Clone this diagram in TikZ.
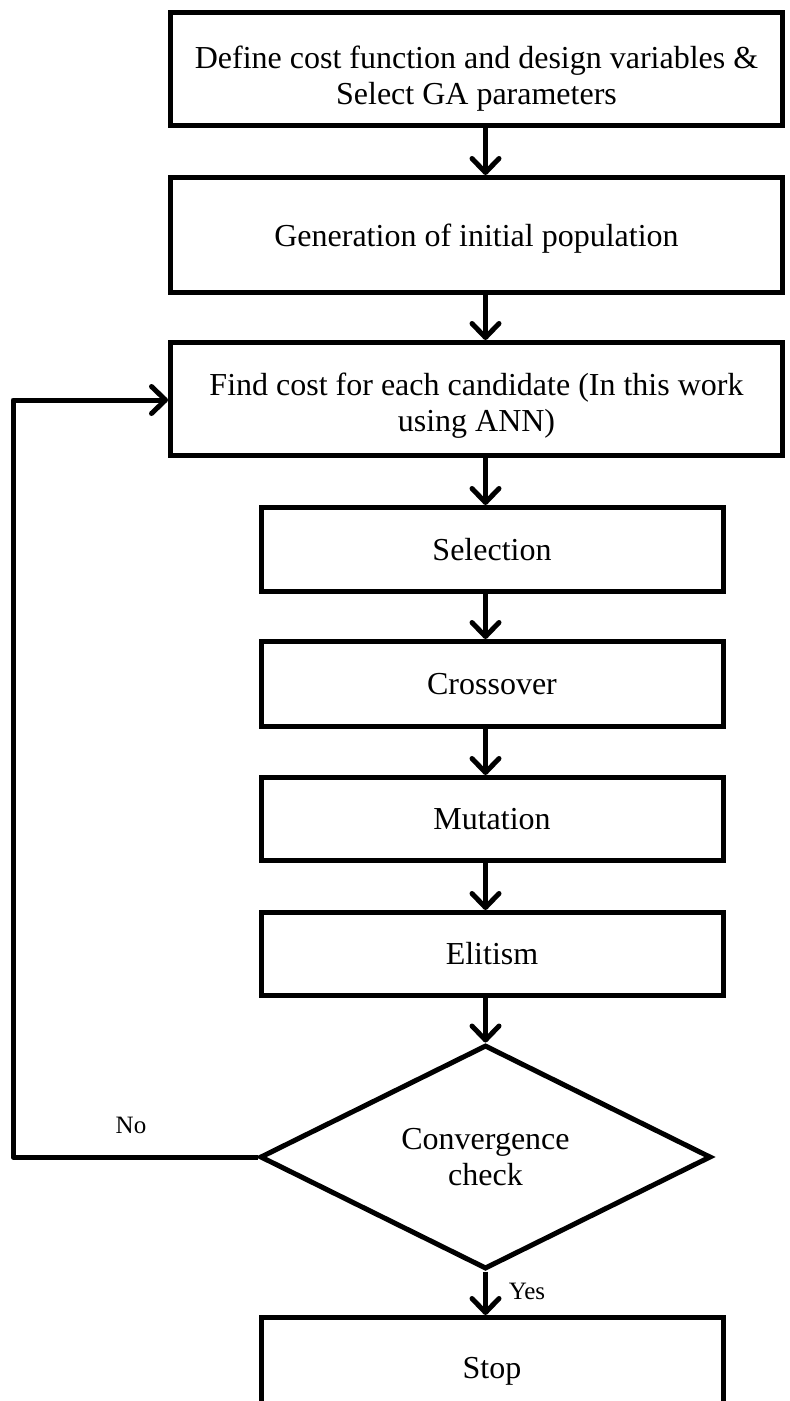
\documentclass[tikz,border=0pt]{standalone}
\usepackage{fontspec}
\setmainfont{Liberation Serif}
\usetikzlibrary{arrows.meta,shapes.geometric}

\begin{document}
\begin{tikzpicture}[x=1pt,y=-1pt,
  every node/.style={font=\fontsize{32}{36}\selectfont},
  procbox/.style={draw, line width=5pt, rectangle, align=center, inner sep=0pt},
  decbox/.style={draw, line width=5pt, diamond, align=center, inner sep=0pt, aspect=2},
  flow/.style={line width=5pt, -{Straight Barb[length=14pt,width=27pt,round]}},
  tag/.style={font=\fontsize{25}{28}\selectfont}
]
\useasboundingbox (0,0) rectangle (790,1401);

% process steps (struts on the first line push the text a little lower)
\node[procbox, minimum width=612pt, minimum height=113pt] (def) at (476.5,69)
  {\rule{0pt}{42pt}Define cost function and design variables \&\\Select GA parameters};
\node[procbox, minimum width=612pt, minimum height=115pt] (gen) at (476.5,235)
  {\rule{0pt}{30pt}Generation of initial population};
\node[procbox, minimum width=612pt, minimum height=113pt] (cost) at (476.5,399)
  {\rule{0pt}{35pt}Find cost for each candidate (In this work\\using ANN)};
\node[procbox, minimum width=462pt, minimum height=84pt] (sel) at (492,549.5)
  {Selection};
\node[procbox, minimum width=462pt, minimum height=85pt] (cross) at (492,684)
  {Crossover};
\node[procbox, minimum width=462pt, minimum height=83pt] (mut) at (492,819)
  {Mutation};
\node[procbox, minimum width=462pt, minimum height=83pt] (elit) at (492,954)
  {Elitism};
\node[decbox, minimum width=451pt, minimum height=224pt] (conv) at (485.5,1157)
  {Convergence\\check};
\node[procbox, minimum width=462pt, minimum height=125pt] (stop) at (492,1380)
  {\raisebox{24pt}{Stop}};

% main flow
\draw[flow] (def.south -| conv.north) -- (gen.north -| conv.north);
\draw[flow] (gen.south -| conv.north) -- (cost.north -| conv.north);
\draw[flow] (cost.south -| conv.north) -- (sel.north -| conv.north);
\draw[flow] (sel.south -| conv.north) -- (cross.north -| conv.north);
\draw[flow] (cross.south -| conv.north) -- (mut.north -| conv.north);
\draw[flow] (mut.south -| conv.north) -- (elit.north -| conv.north);
\draw[flow] (elit.south -| conv.north) -- (conv.north);
\draw[flow] (conv.south) -- (stop.north -| conv.south);

% feedback loop
\coordinate (loopB) at (13,1157);
\coordinate (loopT) at (13,400);
\draw[flow, line join=round] (conv.west) -- (loopB) -- (loopT) -- (loopT -| cost.west);

% branch labels
\node[tag] (no) at (131,1125) {No};
\node[tag] (yes) at (527,1291) {Yes};
\end{tikzpicture}
\end{document}
